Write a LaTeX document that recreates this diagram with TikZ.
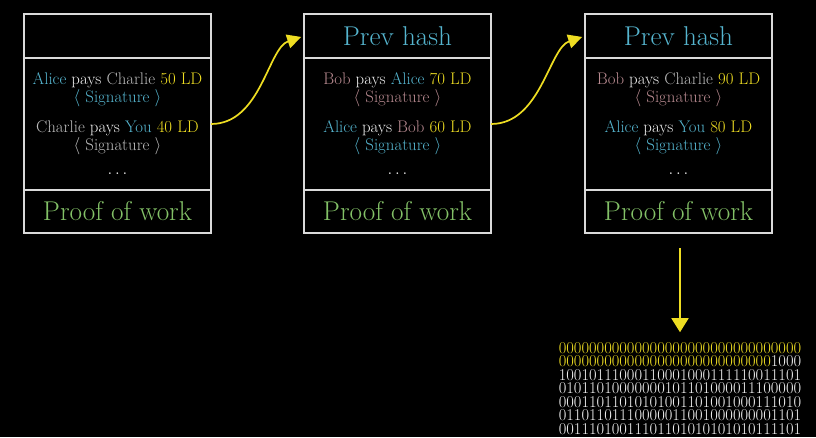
\documentclass[tikz,border=0pt]{standalone}
\usetikzlibrary{arrows.meta}
\definecolor{boxc}{HTML}{DADADA}
\definecolor{blu}{HTML}{55B5CF}
\definecolor{yel}{HTML}{EEDD22}
\definecolor{grn}{HTML}{83C167}
\definecolor{pnk}{HTML}{B88A90}
\definecolor{gry}{HTML}{BBBBBB}
\definecolor{wht}{HTML}{F2F2F2}
\begin{document}
\begin{tikzpicture}[x=1pt,y=-1pt,
  sect/.style={draw=boxc,line width=1.7pt,minimum width=187pt,inner sep=0pt,outer sep=0pt},
  big/.style={font=\fontsize{27.2}{30}\selectfont},
  txt/.style={font=\fontsize{16.8}{19}\selectfont,inner sep=0pt,text height=11pt,text depth=3pt},
  link/.style={draw=yel,line width=1.7pt,-{Triangle[length=14pt,width=14pt]}}]
\fill[black] (0,0) rectangle (816,437);
\useasboundingbox (0,0) rectangle (816,437);
% block 1
\node[sect,minimum height=44pt] (t1) at (117.5,36) {};
\node[sect,minimum height=132pt] (m1) at (117.5,124) {};
\node[sect,minimum height=43pt,big,text=grn] (b1) at (117.5,211.5) {Proof of work};
\node[txt] (l11) at (117.5,80) {\color{blu}Alice \color{wht}pays \color{gry}Charlie \color{yel}50 LD};
\node[txt,text=blu] (s11) at (117.5,98) {$\langle$ Signature $\rangle$};
\node[txt] (l12) at (117.5,128) {\color{gry}Charlie \color{wht}pays \color{blu}You \color{yel}40 LD};
\node[txt,text=gry] (s12) at (117.5,146) {$\langle$ Signature $\rangle$};
\node[txt,text=wht] (d1) at (117.5,170) {$\ldots$};
% block 2
\node[sect,minimum height=44pt,big,text=blu] (t2) at (397.5,36) {Prev hash};
\node[sect,minimum height=132pt] (m2) at (397.5,124) {};
\node[sect,minimum height=43pt,big,text=grn] (b2) at (397.5,211.5) {Proof of work};
\node[txt] (l21) at (397.5,80) {\color{pnk}Bob \color{wht}pays \color{blu}Alice \color{yel}70 LD};
\node[txt,text=pnk] (s21) at (397.5,98) {$\langle$ Signature $\rangle$};
\node[txt] (l22) at (397.5,128) {\color{blu}Alice \color{wht}pays \color{pnk}Bob \color{yel}60 LD};
\node[txt,text=blu] (s22) at (397.5,146) {$\langle$ Signature $\rangle$};
\node[txt,text=wht] (d2) at (397.5,170) {$\ldots$};
% block 3
\node[sect,minimum height=44pt,big,text=blu] (t3) at (678.5,36) {Prev hash};
\node[sect,minimum height=132pt] (m3) at (678.5,124) {};
\node[sect,minimum height=43pt,big,text=grn] (b3) at (678.5,211.5) {Proof of work};
\node[txt] (l31) at (678.5,80) {\color{pnk}Bob \color{wht}pays \color{gry}Charlie \color{yel}90 LD};
\node[txt,text=pnk] (s31) at (678.5,98) {$\langle$ Signature $\rangle$};
\node[txt] (l32) at (678.5,128) {\color{blu}Alice \color{wht}pays \color{blu}You \color{yel}80 LD};
\node[txt,text=blu] (s32) at (678.5,146) {$\langle$ Signature $\rangle$};
\node[txt,text=wht] (d3) at (678.5,170) {$\ldots$};
% links
\draw[link,shorten >=3pt] (m1.east) .. controls +(50,0) and +(-36,12) .. (t2.west);
\draw[link,shorten >=3pt] (m2.east) .. controls +(50,0) and +(-36,12) .. (t3.west);
% hash output
\node[inner sep=0pt,align=center,font=\fontsize{16.5}{13.5}\selectfont,text=wht] (bin) at (680,388.5) {%
\textcolor{yel}{00000000000000000000000000000000}\\
\textcolor{yel}{0000000000000000000000000000}1000\\
10010111000110001000111110011101\\
01011010000000101101000011100000\\
00011011010101001101001000111010\\
01101101110000011001000000001101\\
00111010011101101010101010111101};
\coordinate (s3) at (680,248);
\draw[draw=yel,line width=1.7pt,-{Triangle[length=14pt,width=17pt]}] (s3) -- (bin.north) [shorten >=10pt];
\end{tikzpicture}
\end{document}
